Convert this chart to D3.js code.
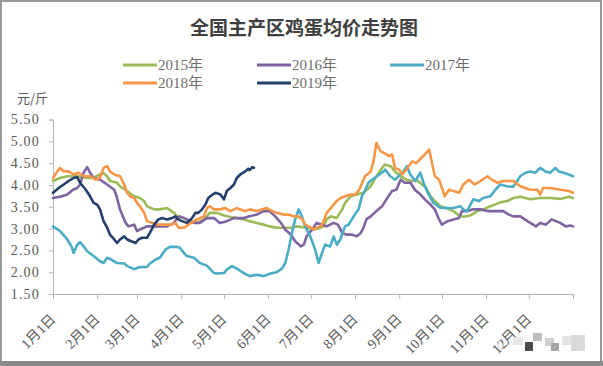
<!DOCTYPE html>
<html><head><meta charset="utf-8">
<script src="https://cdn.jsdelivr.net/npm/d3@7"></script>
<style>
html,body{margin:0;padding:0;background:#fff;}
svg{display:block;}
</style>
</head><body>
<svg id="chart" width="603" height="366"></svg>
<script>
const title = "全国主产区鸡蛋均价走势图";
const unitLabel = "元/斤";
const seriesNames = ["2015年","2016年","2017年","2018年","2019年"];
const seriesColors = ["#9bbb59","#8064a2","#4bacc6","#f79646","#243f6b"];
const monthStarts = [0,31,59,90,120,151,181,212,243,273,304,334,365];
const monthLabels = ["1月1日","2月1日","3月1日","4月1日","5月1日","6月1日","7月1日","8月1日","9月1日","10月1日","11月1日","12月1日",""];
const yTicks = [1.5,2.0,2.5,3.0,3.5,4.0,4.5,5.0,5.5];

// [day of year, price]
const s2015 = [[0,4.09],[5,4.16],[10,4.20],[14,4.20],[19,4.19],[24,4.16],[28,4.16],[33,4.24],[35,4.28],[38,4.20],[40,4.09],[45,4.05],[47,3.97],[52,3.86],[57,3.74],[61,3.70],[64,3.63],[66,3.51],[71,3.44],[75,3.44],[80,3.47],[85,3.36],[87,3.28],[92,3.24],[96,3.17],[101,3.13],[106,3.21],[110,3.36],[115,3.36],[120,3.30],[124,3.27],[129,3.24],[134,3.21],[138,3.17],[143,3.13],[148,3.09],[152,3.05],[157,3.02],[162,3.02],[167,3.02],[171,3.05],[178,3.02],[183,2.98],[188,3.02],[190,3.05],[192,3.21],[195,3.28],[199,3.24],[203,3.44],[205,3.59],[209,3.74],[213,3.78],[218,3.82],[223,3.97],[227,4.20],[231,4.39],[233,4.47],[237,4.43],[240,4.31],[244,4.20],[248,4.12],[252,4.09],[255,4.12],[259,4.01],[262,3.93],[265,3.74],[268,3.63],[272,3.51],[276,3.47],[281,3.40],[285,3.30],[288,3.27],[293,3.30],[298,3.40],[302,3.44],[307,3.51],[314,3.60],[319,3.63],[323,3.70],[328,3.73],[335,3.67],[342,3.70],[349,3.70],[356,3.68],[362,3.73],[365,3.70]];
const s2016 = [[0,3.70],[5,3.73],[10,3.78],[14,3.89],[17,3.93],[19,4.01],[21.5,4.28],[24,4.41],[26,4.28],[28.5,4.16],[33,4.12],[38,4.01],[43,3.89],[45,3.70],[47,3.44],[51,3.13],[53,3.05],[57,3.09],[59,2.94],[61,2.98],[66,3.05],[72,3.05],[80,3.05],[85,3.13],[87,3.24],[89,3.28],[94,3.21],[99,3.13],[103,3.13],[108,3.24],[113,3.24],[117,3.13],[122,3.17],[127,3.24],[131,3.24],[134,3.24],[138,3.28],[143,3.32],[148,3.40],[152,3.40],[156,3.28],[160,3.13],[163,2.98],[167,2.86],[170,2.71],[174,2.59],[176,2.63],[178,2.82],[182,2.98],[185,3.13],[189,3.09],[192,3.05],[197,3.13],[200,3.09],[203,2.90],[206,2.86],[210,2.86],[213,2.82],[216,2.90],[218,3.02],[220,3.21],[223,3.28],[227,3.40],[231,3.51],[234,3.67],[238,3.86],[241,3.89],[244,4.12],[247,4.05],[251,4.05],[254,3.89],[258,3.78],[261,3.67],[265,3.55],[268,3.44],[271,3.21],[273,3.09],[277,3.17],[281,3.21],[285,3.24],[287,3.40],[291,3.40],[295,3.44],[300,3.44],[305,3.40],[310,3.40],[316,3.40],[320,3.32],[323,3.28],[328,3.28],[333,3.17],[339,3.05],[342,3.13],[346,3.09],[350,3.21],[356,3.13],[360,3.05],[363,3.07],[365,3.05]];
const s2017 = [[0,3.05],[5,2.94],[10,2.75],[13,2.59],[14.5,2.44],[17,2.63],[19,2.69],[21.5,2.59],[24,2.48],[28.5,2.37],[33,2.25],[35.5,2.21],[38,2.33],[41,2.29],[45,2.21],[50,2.20],[52,2.14],[57,2.07],[61,2.12],[66,2.12],[68,2.20],[72,2.29],[75,2.33],[79,2.52],[82,2.58],[87,2.58],[89,2.56],[92,2.44],[94,2.37],[99,2.33],[103,2.21],[108,2.15],[113,1.98],[115,1.97],[120,1.98],[122,2.06],[125.6,2.14],[129,2.08],[134,1.98],[138,1.91],[143,1.94],[148,1.91],[152.5,1.97],[157,2.00],[160.7,2.08],[163,2.21],[165.4,2.52],[167.7,2.90],[170,3.21],[172.4,3.44],[174.7,3.28],[177,3.05],[180.6,2.82],[184,2.52],[186.4,2.21],[188.8,2.44],[191,2.63],[194.6,2.59],[197,2.82],[199.3,2.63],[201.6,2.75],[205,3.05],[207.5,3.09],[211,3.28],[214.5,3.44],[216.8,3.74],[219.2,3.89],[221.5,4.05],[223.9,4.12],[227.4,4.20],[230.9,4.28],[233.2,4.35],[236.7,4.20],[240.2,4.12],[242.6,4.20],[246,4.31],[248.4,4.43],[250.8,4.24],[254.3,4.09],[257.8,4.28],[260.1,4.05],[262.5,3.86],[267,3.59],[272,3.47],[276.5,3.47],[281,3.47],[286,3.51],[288,3.44],[290.6,3.40],[293,3.55],[295,3.67],[299,3.63],[302,3.70],[307,3.74],[310.5,3.89],[314,4.01],[318.6,3.97],[323,3.96],[325.7,4.09],[328,4.20],[331.5,4.28],[335,4.31],[338.5,4.28],[342,4.39],[345.6,4.31],[349,4.28],[352.6,4.39],[355,4.31],[358.4,4.28],[362,4.24],[365,4.20]];
const s2018 = [[0,4.16],[3,4.31],[5,4.39],[7.5,4.31],[11,4.31],[14.5,4.24],[18,4.28],[21.5,4.20],[26,4.20],[30,4.12],[33,4.16],[35.5,4.39],[38,4.43],[40,4.31],[43,4.24],[47,4.20],[50,4.01],[52,3.82],[54,3.74],[57,3.70],[59,3.59],[61,3.51],[64,3.36],[66,3.17],[69.5,3.13],[73,3.09],[76.5,3.09],[80,3.09],[83.5,3.09],[86,3.13],[88,3.02],[92,3.02],[95,3.09],[99,3.17],[101,3.21],[106,3.28],[108,3.47],[110,3.51],[113,3.44],[117.5,3.44],[121,3.47],[124.5,3.40],[129,3.47],[131,3.44],[135,3.40],[138,3.44],[143,3.40],[147,3.44],[150,3.47],[154,3.40],[157,3.36],[162,3.32],[165,3.32],[169,3.28],[172,3.28],[175,3.21],[177,3.09],[181,3.02],[183,2.98],[185,3.02],[188,3.05],[190,3.17],[192,3.36],[195,3.47],[197,3.55],[199,3.63],[202,3.70],[205,3.74],[209,3.78],[212,3.78],[215,3.89],[217,4.05],[219,4.20],[223,4.31],[225,4.54],[227,4.96],[230,4.77],[232,4.74],[236,4.66],[238,4.70],[240,4.39],[243,4.35],[245,4.24],[248,4.35],[252,4.54],[255,4.50],[258,4.60],[261,4.70],[264,4.81],[266,4.51],[268,4.20],[271,4.12],[273,3.93],[275,3.74],[278,3.89],[281,3.86],[285,3.82],[288,4.01],[292,4.12],[296,4.01],[300,4.09],[305,4.20],[308,4.12],[312,4.05],[316,4.09],[323,4.09],[328,3.97],[335,3.89],[340,3.89],[342,3.78],[344,3.93],[349,3.93],[356,3.89],[362,3.86],[365,3.82]];
const s2019 = [[0,3.82],[4,3.93],[7.5,4.01],[11,4.09],[14.5,4.16],[17,4.18],[19,4.05],[23,3.89],[26,3.74],[28.5,3.59],[31,3.55],[33,3.44],[35.5,3.17],[38,3.02],[40,2.86],[43,2.75],[45,2.67],[47,2.75],[50,2.82],[52,2.75],[55,2.71],[58,2.67],[60,2.75],[62.5,2.79],[66,2.79],[68,2.90],[71,3.09],[74,3.21],[76.5,3.24],[80,3.21],[83.5,3.24],[86,3.28],[88,3.21],[90.5,3.17],[94,3.13],[97.6,3.24],[100,3.36],[102,3.36],[104.6,3.44],[107,3.55],[109,3.70],[112,3.78],[114,3.82],[117.5,3.78],[120,3.67],[122,3.86],[124.5,3.93],[127,4.01],[129,4.16],[131.5,4.24],[135,4.31],[137,4.37],[138,4.34],[140,4.41],[141,4.39]];
const seriesData = [s2015,s2016,s2017,s2018,s2019];

const svg = d3.select("#chart");
const textColor = "#595959";
const serif = "'Liberation Serif','Noto Sans CJK SC',serif";

// outer frame
svg.append("rect").attr("x",1).attr("y",1).attr("width",600).attr("height",362)
  .attr("fill","#fff").attr("stroke","#9a9a9a").attr("stroke-width",2);
svg.append("rect").attr("x",0).attr("y",361).attr("width",603).attr("height",5).attr("fill","#8a8a8a");

const x = d3.scaleLinear().domain([0,365]).range([53,573]);
const y = d3.scaleLinear().domain([1.5,5.5]).range([294,119.5]);

// title
svg.append("text").attr("x",304).attr("y",35).attr("text-anchor","middle")
  .attr("font-family","'Noto Sans CJK SC',sans-serif").attr("font-weight","bold")
  .attr("font-size",19).attr("fill","#404040").text(title);

// unit
svg.append("text").attr("x",17).attr("y",103).attr("font-family","'Noto Sans CJK SC',sans-serif")
  .attr("font-size",13).attr("fill",textColor).text(unitLabel);

// legend
const legendPos = [[123,65],[257,65],[390,65],[123,83],[257,83]];
seriesNames.forEach((n,i)=>{
  const [lx,ly] = legendPos[i];
  const g = svg.append("g");
  g.append("line").attr("x1",lx).attr("x2",lx+34).attr("y1",ly).attr("y2",ly)
    .attr("stroke",seriesColors[i]).attr("stroke-width",3);
  g.append("text").attr("x",lx+35).attr("y",ly+5).attr("font-family",serif)
    .attr("font-size",15).attr("fill","#6e6e6e").text(n);
});

// y axis
const yAxis = d3.axisLeft(y).tickValues(yTicks).tickFormat(d3.format(".2f")).tickSize(4).tickPadding(9);
const gy = svg.append("g").attr("transform","translate(53,0)").call(yAxis);
gy.select(".domain").attr("stroke","#b5b5b5");
gy.selectAll(".tick line").attr("stroke","#b5b5b5");
gy.selectAll(".tick text").attr("font-family",serif).attr("font-size",14)
  .attr("fill",textColor).attr("letter-spacing","1.2px");

// x axis
const xAxis = d3.axisBottom(x).tickValues(monthStarts).tickFormat((d,i)=>monthLabels[i]).tickSize(5).tickSizeOuter(0);
const gx = svg.append("g").attr("transform","translate(0,294)").call(xAxis);
gx.select(".domain").attr("stroke","#b5b5b5");
gx.selectAll(".tick line").attr("stroke","#b5b5b5");
gx.selectAll(".tick text").attr("font-family",serif).attr("font-size",14).attr("fill",textColor)
  .attr("text-anchor","end").attr("dy",0).attr("y",0)
  .attr("transform","translate(3,26) rotate(-45)");

// lines
const line = d3.line().x(d=>x(d[0])).y(d=>y(d[1]));
seriesData.forEach((s,i)=>{
  svg.append("path").datum(s).attr("d",line).attr("fill","none")
    .attr("stroke",seriesColors[i]).attr("stroke-width",2.6)
    .attr("stroke-linejoin","round").attr("stroke-linecap","round");
});

// watermark mosaic (decoration)
const wm = svg.append("g");
[[513,337,10,8,"#e6e6e6"],[525,342,8,9,"#4a4a4a"],[533,333,9,8,"#bdbdbd"],[545,338,9,8,"#cfcfcf"],[551,343,8,8,"#a8a8a8"],[562,336,9,9,"#e3e3e3"],[571,335,14,16,"#d9d9d9"]].forEach(r=>{
  wm.append("rect").attr("x",r[0]).attr("y",r[1]).attr("width",r[2]).attr("height",r[3]).attr("fill",r[4]);
});
wm.append("circle").attr("cx",503).attr("cy",344).attr("r",5).attr("fill","none").attr("stroke","#cfcfcf").attr("stroke-width",1);
</script>
</body></html>
